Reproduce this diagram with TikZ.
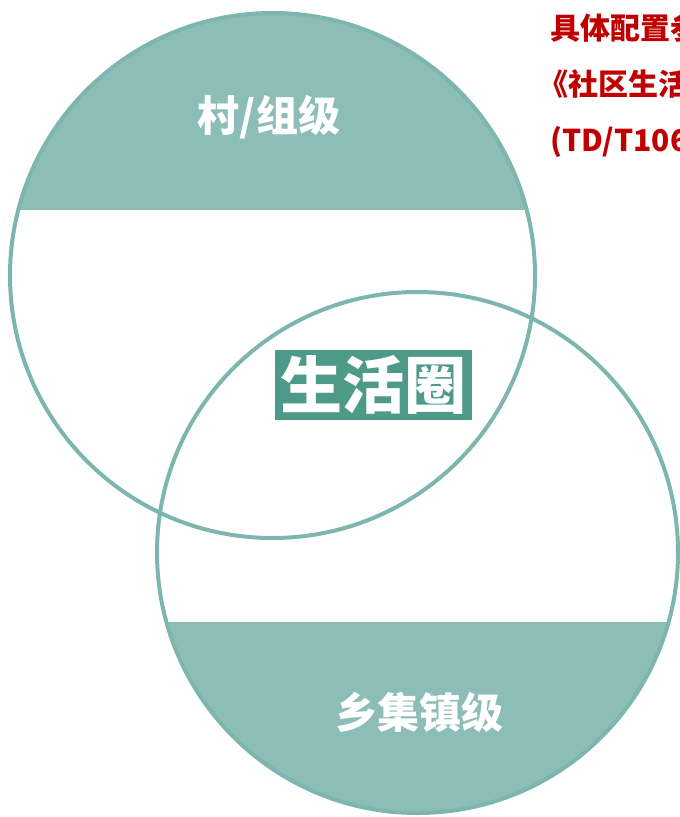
\documentclass[tikz,border=0pt]{standalone}
\usepackage{fontspec}
\usetikzlibrary{positioning}
\newfontfamily\cjk{Noto Sans CJK SC}
\definecolor{ringc}{HTML}{7DB6AF}
\definecolor{capc}{HTML}{8CBDB6}
\definecolor{corec}{HTML}{4E9A89}
\definecolor{notec}{HTML}{C00000}

\begin{document}
\begin{tikzpicture}[x=1pt,y=-1pt,
ring/.style={circle,draw=ringc,line width=4pt,inner sep=0pt},
cap label/.style={text=white,font=\cjk\bfseries\fontsize{42}{48}\selectfont},
core/.style={fill=corec,text=white,inner sep=0pt,minimum width=197pt,minimum height=70pt,
  font=\cjk\bfseries\fontsize{62}{70}\selectfont},
note/.style={text=notec,align=left,inner sep=0pt,font=\cjk\bfseries\fontsize{30}{56}\selectfont}]

\useasboundingbox (0,0) rectangle (680,817);
\clip (0,0) rectangle (680,817);
\coordinate (u) at (272.5,275.5);
\coordinate (l) at (417.5,552.5);

\begin{scope}
\clip (0,0) rectangle (680,209.5);
\fill[capc] (u) circle[radius=262.5pt];
\end{scope}
\begin{scope}
\clip (0,622) rectangle (680,817);
\fill[capc] (l) circle[radius=260.5pt];
\end{scope}

\node[ring,minimum size=525pt] (village) at (u) {};
\node[ring,minimum size=521pt] (town) at (l) {};

\node[cap label] (villagetxt) at (269,117) {村/组级};
\node[cap label] (towntxt) at (419,712) {乡集镇级};
\node[core] (life) at (373.5,385) {生活圈};

\node[note,anchor=north west] (note) at (550,13) {具体配置参照\\\hspace*{-12pt}《社区生活圈规划技术指南》\\(TD/T1062-2021)};
\end{tikzpicture}
\end{document}
